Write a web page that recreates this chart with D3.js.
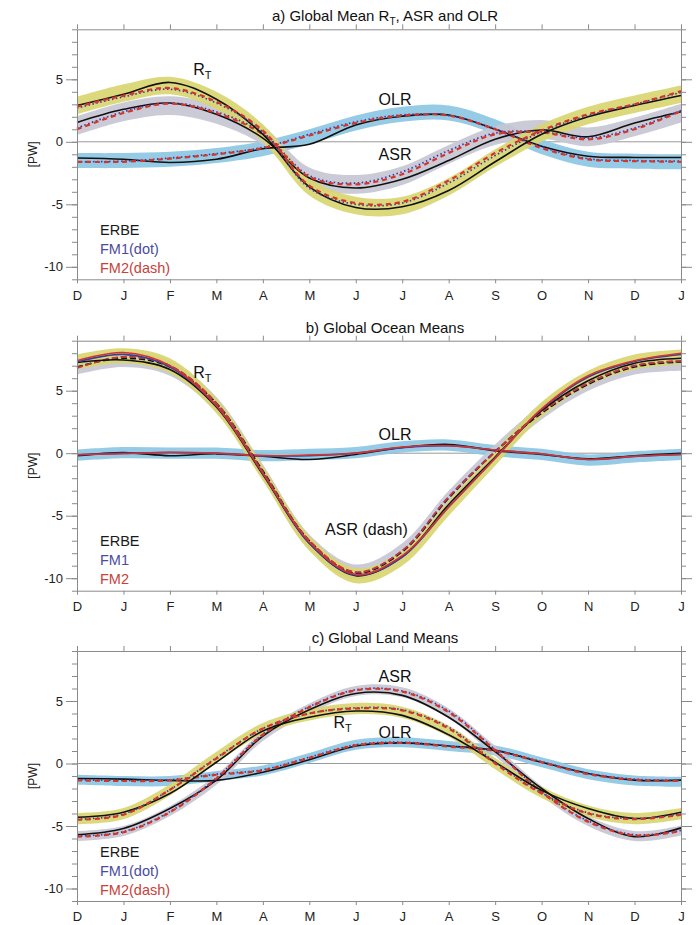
<!DOCTYPE html>
<html>
<head>
<meta charset="utf-8">
<script src="https://cdn.jsdelivr.net/npm/d3@7"></script>
<style>
  body { margin: 0; background: #fff; }
  svg text { font-family: "Liberation Sans", Arial, Helvetica, sans-serif; }
</style>
</head>
<body>
<div id="chart"></div>
<script>
// month ticks, Dec .. Jan (14 ticks)
var months = ["D", "J", "F", "M", "A", "M", "J", "J", "A", "S", "O", "N", "D", "J"];
var yTicks = [5, 0, -5, -10];
var yMinor = d3.range(-11, 10);

// ---- a) Global mean ----
var aRtBand  = [2.9, 3.9, 4.5, 3.3, 0.7, -3.6, -5.1, -5.1, -3.6, -1.3, 0.7, 2.1, 3.0, 3.8];
var aRtErbe  = [2.9, 3.8, 4.75, 3.4, 0.6, -3.6, -5.25, -5.2, -3.9, -1.6, 0.6, 2.0, 2.9, 3.7];
var aRtFm1   = [2.7, 3.6, 4.2, 3.1, 0.8, -3.7, -5.0, -4.9, -3.3, -1.1, 0.8, 2.1, 3.0, 3.95];
var aRtFm2   = [2.8, 3.7, 4.3, 3.2, 0.9, -3.5, -4.9, -4.8, -3.1, -0.9, 0.9, 2.2, 3.0, 4.05];
var aAsrBand = [1.3, 2.4, 2.9, 2.2, 0.5, -2.8, -3.4, -2.7, -1.0, 0.5, 1.0, 0.4, 1.2, 2.3];
var aAsrErbe = [1.55, 2.6, 3.1, 2.2, 0.3, -2.9, -3.7, -3.0, -1.5, 0.2, 0.95, 0.4, 1.5, 2.4];
var aAsrFm1  = [1.1, 2.4, 3.1, 2.4, 0.7, -2.7, -3.3, -2.4, -0.7, 0.7, 0.8, 0.3, 1.1, 2.5];
var aAsrFm2  = [1.0, 2.3, 3.05, 2.3, 0.6, -2.8, -3.4, -2.6, -0.9, 0.6, 0.75, 0.2, 1.0, 2.45];
var aOlrBand = [-1.5, -1.5, -1.4, -1.1, -0.55, 0.4, 1.5, 2.2, 2.3, 1.2, -0.4, -1.4, -1.55, -1.6];
var aOlrErbe = [-1.3, -1.4, -1.65, -1.4, -0.55, -0.2, 1.35, 2.05, 2.15, 1.0, -0.35, -1.15, -1.25, -1.25];
var aOlrFm1  = [-1.6, -1.55, -1.3, -0.95, -0.45, 0.6, 1.6, 2.15, 2.1, 1.05, -0.4, -1.35, -1.5, -1.55];
var aOlrFm2  = [-1.6, -1.6, -1.35, -1.0, -0.5, 0.5, 1.5, 2.1, 2.1, 1.0, -0.5, -1.4, -1.55, -1.6];

// ---- b) Ocean ----
var bRtBand  = [7.3, 7.8, 7.0, 3.8, -1.6, -7.2, -9.8, -8.4, -4.4, -0.4, 3.5, 6.0, 7.3, 7.7];
var bRtErbe  = [7.25, 7.45, 6.7, 3.7, -1.7, -7.2, -9.8, -8.3, -4.1, -0.3, 3.4, 5.8, 7.2, 7.6];
var bRtFm1   = [7.3, 7.9, 6.9, 3.8, -1.6, -7.2, -9.75, -8.3, -4.3, -0.4, 3.5, 6.1, 7.35, 7.9];
var bRtFm2   = [7.4, 8.05, 7.0, 3.8, -1.6, -7.1, -9.7, -8.2, -4.3, -0.4, 3.55, 6.2, 7.4, 8.0];
var bAsrBand = [6.9, 7.5, 6.8, 3.9, -1.5, -7.1, -9.5, -7.8, -3.6, 0.1, 3.3, 5.6, 6.9, 7.2];
var bAsrErbe = [6.9, 7.6, 6.9, 4.0, -1.4, -7.0, -9.6, -7.9, -3.6, 0.1, 3.2, 5.5, 6.9, 7.3];
var bAsrFm1  = [6.85, 7.7, 7.0, 4.0, -1.5, -7.0, -9.55, -7.8, -3.5, 0.15, 3.3, 5.6, 7.0, 7.35];
var bAsrFm2  = [6.8, 7.7, 7.0, 4.0, -1.5, -7.0, -9.5, -7.8, -3.5, 0.1, 3.3, 5.6, 7.0, 7.4];
var bOlrBand = [-0.15, 0.05, 0.0, 0.0, -0.2, -0.1, 0.05, 0.5, 0.65, 0.2, -0.1, -0.55, -0.3, -0.1];
var bOlrErbe = [-0.2, 0.05, -0.2, -0.05, -0.25, -0.5, -0.1, 0.45, 0.7, 0.2, -0.1, -0.45, -0.2, 0.0];
var bOlrFm1  = [-0.15, 0.0, 0.05, 0.0, -0.2, -0.2, 0.0, 0.45, 0.6, 0.25, -0.05, -0.5, -0.25, -0.1];
var bOlrFm2  = [-0.1, -0.05, 0.08, 0.0, -0.2, -0.15, 0.0, 0.5, 0.6, 0.25, -0.05, -0.5, -0.25, -0.1];

// ---- c) Land ----
var cRtBand  = [-4.4, -4.0, -2.1, 0.5, 2.8, 3.9, 4.4, 4.1, 2.6, 0.0, -2.3, -3.8, -4.4, -4.0];
var cRtErbe  = [-4.3, -3.9, -2.4, 0.1, 2.6, 3.7, 4.2, 3.85, 2.3, 0.1, -2.15, -3.6, -4.4, -3.9];
var cRtFm1   = [-4.45, -4.05, -2.1, 0.45, 2.8, 4.0, 4.45, 4.3, 2.9, 0.1, -2.35, -3.95, -4.4, -4.05];
var cRtFm2   = [-4.5, -4.1, -2.1, 0.4, 2.8, 4.0, 4.4, 4.25, 2.8, 0.0, -2.4, -4.0, -4.45, -4.1];
var cAsrBand = [-5.8, -5.4, -3.8, -1.3, 2.2, 4.4, 5.8, 5.7, 4.0, 1.0, -2.2, -4.6, -5.8, -5.35];
var cAsrErbe = [-5.7, -5.2, -3.6, -1.33, 2.2, 4.3, 5.6, 5.45, 3.7, 0.95, -2.0, -4.4, -5.85, -5.15];
var cAsrFm1  = [-5.8, -5.45, -3.85, -1.15, 2.35, 4.55, 5.9, 5.8, 4.2, 1.1, -2.25, -4.6, -5.7, -5.35];
var cAsrFm2  = [-5.85, -5.5, -3.9, -1.2, 2.3, 4.5, 5.85, 5.75, 4.1, 1.05, -2.3, -4.65, -5.75, -5.4];
var cOlrBand = [-1.3, -1.4, -1.4, -1.0, -0.55, 0.45, 1.5, 1.7, 1.4, 1.05, 0.1, -0.85, -1.35, -1.45];
var cOlrErbe = [-1.2, -1.25, -1.35, -1.35, -0.7, 0.3, 1.4, 1.65, 1.4, 1.05, 0.1, -0.8, -1.33, -1.33];
var cOlrFm1  = [-1.3, -1.35, -1.3, -0.85, -0.5, 0.5, 1.5, 1.7, 1.4, 1.05, 0.15, -0.8, -1.25, -1.35];
var cOlrFm2  = [-1.35, -1.4, -1.35, -0.9, -0.55, 0.45, 1.45, 1.65, 1.35, 1.0, 0.1, -0.85, -1.3, -1.4];

var width = 696, height = 925;
var left = 77, right = 681, plotH = 250;

var yellow = "#d8d670", grey = "#c6c7d2", blue = "#8cc7e3";
var black = "#111", fmBlue = "#3b3ba8", fmRed = "#d2352c";
var axisColor = "#8a8a8a";

var dotted = {blue: "1.5,2.5", red: "5,4"};

var panels = [
  {top: 29.3, title: ["a) Global Mean R", "T", ", ASR and OLR"], fmText: ["FM1(dot)", "FM2(dash)"], solidFm: false,
   series: [
     {name: "OLR", band: aOlrBand, half: 0.6, color: blue, erbe: aOlrErbe, fm1: aOlrFm1, fm2: aOlrFm2},
     {name: "ASR", band: aAsrBand, half: 0.75, color: grey, erbe: aAsrErbe, fm1: aAsrFm1, fm2: aAsrFm2},
     {name: "RT", band: aRtBand, half: 0.7, color: yellow, erbe: aRtErbe, fm1: aRtFm1, fm2: aRtFm2}],
   labels: [{t: "R", sub: "T", m: 2.5, v: 5.35}, {t: "OLR", m: 6.49, v: 2.95}, {t: "ASR", m: 6.49, v: -1.45}]},
  {top: 340.7, title: ["b) Global Ocean Means"], fmText: ["FM1", "FM2"], solidFm: true,
   series: [
     {name: "OLR", band: bOlrBand, half: 0.45, color: blue, erbe: bOlrErbe, fm1: bOlrFm1, fm2: bOlrFm2},
     {name: "ASR", band: bAsrBand, half: 0.6, color: grey, erbe: bAsrErbe, fm1: bAsrFm1, fm2: bAsrFm2, dash: true},
     {name: "RT", band: bRtBand, half: 0.6, color: yellow, erbe: bRtErbe, fm1: bRtFm1, fm2: bRtFm2}],
   labels: [{t: "R", sub: "T", m: 2.5, v: 6.05}, {t: "OLR", m: 6.49, v: 1.05}, {t: "ASR (dash)", m: 5.34, v: -6.55}]},
  {top: 651, title: ["c) Global Land Means"], fmText: ["FM1(dot)", "FM2(dash)"], solidFm: false,
   series: [
     {name: "OLR", band: cOlrBand, half: 0.4, color: blue, erbe: cOlrErbe, fm1: cOlrFm1, fm2: cOlrFm2},
     {name: "ASR", band: cAsrBand, half: 0.4, color: grey, erbe: cAsrErbe, fm1: cAsrFm1, fm2: cAsrFm2},
     {name: "RT", band: cRtBand, half: 0.45, color: yellow, erbe: cRtErbe, fm1: cRtFm1, fm2: cRtFm2}],
   labels: [{t: "ASR", m: 6.49, v: 6.55}, {t: "R", sub: "T", m: 5.52, v: 2.85}, {t: "OLR", m: 6.49, v: 2.05}]}
];

var svg = d3.select("#chart").append("svg")
  .attr("width", width)
  .attr("height", height);

var x = d3.scaleLinear().domain([0, months.length - 1]).range([left, right]);

function drawPanel(p) {
  var y = d3.scaleLinear().domain([-11, 9]).range([p.top + plotH, p.top]);
  var g = svg.append("g");

  // zero line
  g.append("line")
    .attr("x1", left).attr("x2", right)
    .attr("y1", y(0)).attr("y2", y(0))
    .attr("stroke", "#999").attr("stroke-width", 1);

  // uncertainty bands
  p.series.forEach(function(s) {
    var area = d3.area()
      .x((d, i) => x(i))
      .y0(d => y(d - s.half))
      .y1(d => y(d + s.half))
      .curve(d3.curveCatmullRom);
    g.append("path")
      .datum(s.band)
      .attr("d", area)
      .attr("fill", s.color)
      .attr("opacity", 0.92);
  });

  var line = d3.line()
    .x((d, i) => x(i))
    .y(d => y(d))
    .curve(d3.curveCatmullRom);

  p.series.forEach(function(s) {
    var dash = s.dash ? "6,3" : null;
    g.append("path").datum(s.erbe).attr("d", line)
      .attr("fill", "none").attr("stroke", black).attr("stroke-width", 1.6)
      .attr("stroke-dasharray", dash);
    g.append("path").datum(s.fm1).attr("d", line)
      .attr("fill", "none").attr("stroke", fmBlue).attr("stroke-width", 1.7)
      .attr("stroke-dasharray", p.solidFm ? dash : dotted.blue);
    g.append("path").datum(s.fm2).attr("d", line)
      .attr("fill", "none").attr("stroke", fmRed).attr("stroke-width", p.solidFm ? 1.6 : 2.2)
      .attr("stroke-dasharray", p.solidFm ? dash : dotted.red);
  });

  // axes
  var bottom = p.top + plotH;
  g.append("g").attr("transform", `translate(0,${bottom})`)
    .call(d3.axisBottom(x).tickValues(d3.range(months.length)).tickFormat(i => months[i])
      .tickSizeInner(4).tickSizeOuter(0).tickPadding(7));
  g.append("g").attr("transform", `translate(0,${p.top})`)
    .call(d3.axisTop(x).tickValues(d3.range(months.length)).tickFormat("")
      .tickSizeInner(5).tickSizeOuter(0));
  g.append("g").attr("transform", `translate(${left},0)`)
    .call(d3.axisLeft(y).tickValues(yMinor).tickFormat("").tickSizeInner(5).tickSizeOuter(0));
  g.append("g").attr("transform", `translate(${left},0)`)
    .call(d3.axisLeft(y).tickValues(yTicks).tickFormat(d => String(d))
      .tickSizeInner(11).tickSizeOuter(0).tickPadding(3));
  g.append("g").attr("transform", `translate(${right},0)`)
    .call(d3.axisRight(y).tickValues(yMinor).tickFormat("").tickSizeInner(5).tickSizeOuter(0));
  g.append("g").attr("transform", `translate(${right},0)`)
    .call(d3.axisRight(y).tickValues(yTicks).tickFormat("").tickSizeInner(11).tickSizeOuter(0));

  g.selectAll(".domain, .tick line").attr("stroke", axisColor);
  g.selectAll(".tick text")
    .attr("fill", "#222")
    .style("font-size", "13px")
    .style("font-family", "'Liberation Sans', Arial, sans-serif");

  // title
  var title = g.append("text")
    .attr("x", 385).attr("y", p.top - 8)
    .attr("text-anchor", "middle")
    .style("font-size", "15px").attr("fill", "#111");
  title.append("tspan").text(p.title[0]);
  if (p.title.length > 1) {
    title.append("tspan").text(p.title[1]).attr("dy", 4).style("font-size", "10px");
    title.append("tspan").text(p.title[2]).attr("dy", -4);
  }

  // y label
  g.append("text")
    .attr("transform", `translate(37,${y(-1)}) rotate(-90)`)
    .attr("text-anchor", "middle")
    .style("font-size", "12px").attr("fill", "#222")
    .text("[PW]");

  // curve labels
  p.labels.forEach(function(l) {
    var t = g.append("text")
      .attr("x", x(l.m)).attr("y", y(l.v))
      .style("font-size", "16px").attr("fill", "#111");
    t.append("tspan").text(l.t);
    if (l.sub) t.append("tspan").text(l.sub).attr("dy", 4).style("font-size", "11px");
  });

  // legend
  var leg = [["ERBE", "#1a1a1a"], [p.fmText[0], "#4b4b9e"], [p.fmText[1], "#c8423a"]];
  g.selectAll(".leg")
    .data(leg).enter()
    .append("text")
    .attr("x", 100)
    .attr("y", (d, i) => p.top + 205.7 + i * 19)
    .style("font-size", "14.5px")
    .attr("fill", d => d[1])
    .text(d => d[0]);
}

panels.forEach(drawPanel);
</script>
</body>
</html>
